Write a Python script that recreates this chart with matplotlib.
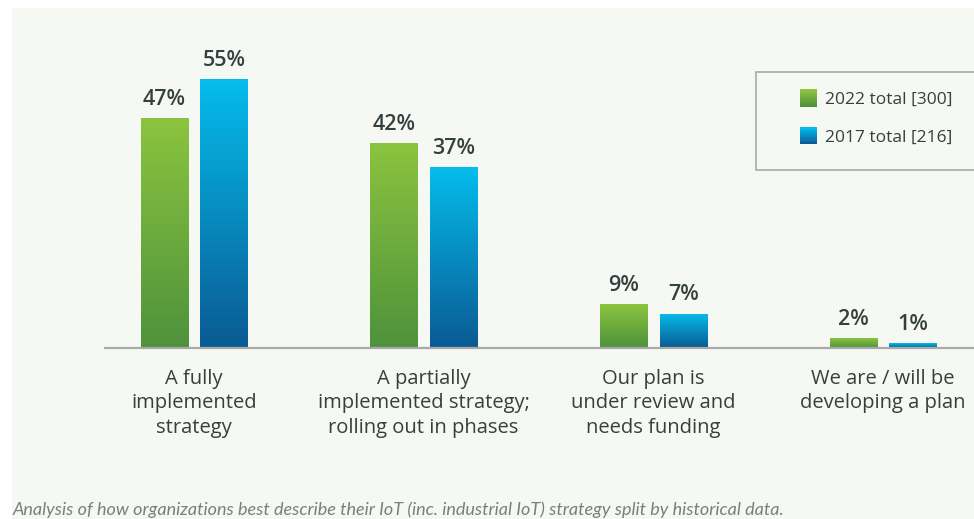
import numpy as np
import matplotlib
matplotlib.use("Agg")
import matplotlib.pyplot as plt
from matplotlib.patches import Rectangle
from matplotlib.legend_handler import HandlerBase
from matplotlib.colors import LinearSegmentedColormap

# --- data ---------------------------------------------------------------
categories = [
    "A fully\nimplemented\nstrategy",
    "A partially\nimplemented strategy;\nrolling out in phases",
    "Our plan is\nunder review and\nneeds funding",
    "We are / will be\ndeveloping a plan",
]
series_names = ["2022 total [300]", "2017 total [216]"]
values_2022 = [47, 42, 9, 2]
values_2017 = [55, 37, 7, 1]
caption = ("Analysis of how organizations best describe their IoT "
           "(inc. industrial IoT) strategy split by historical data.")

# --- styling --------------------------------------------------------------
W, H, DPI = 974, 519, 100
green_top, green_bot = "#8cc43f", "#4e923c"
blue_top, blue_bot = "#05bdec", "#0a5a93"
text_dark = "#34403f"
panel_bg = "#f6f8f3"
font = "Open Sans"

fig = plt.figure(figsize=(W / DPI, H / DPI), dpi=DPI, facecolor="white")
# light panel behind the chart
fig.patches.append(Rectangle((12 / W, 0), 1 - 12 / W, 1 - 8 / H,
                             transform=fig.transFigure, facecolor=panel_bg,
                             edgecolor="none", zorder=-10))

ax_left, ax_right = 105 / W, 1.0
ax_bottom = (H - 348) / H
ax_top = (H - 55) / H
ax = fig.add_axes([ax_left, ax_bottom, ax_right - ax_left, ax_top - ax_bottom])
ax.set_facecolor("none")

x = np.arange(len(categories))
width = 0.205
offset = 0.13


def gradient_bars(xs, vals, top, bot):
    bars = ax.bar(xs, vals, width=width, color="none", edgecolor="none")
    cmap = LinearSegmentedColormap.from_list("g", [bot, top])
    grad = np.linspace(0, 1, 256).reshape(-1, 1)
    for b in bars:
        x0 = b.get_x()
        w, h = b.get_width(), b.get_height()
        im = ax.imshow(grad, cmap=cmap, origin="lower", aspect="auto",
                       extent=(x0, x0 + w, 0, max(h, 1e-6)), zorder=2)
        im.set_clip_path(b)
    return bars


gradient_bars(x - offset, values_2022, green_top, green_bot)
gradient_bars(x + offset, values_2017, blue_top, blue_bot)
ax.set_xlim(-0.3875, 3.396)
ax.set_ylim(0, 60)

for xs, vals in ((x - offset, values_2022), (x + offset, values_2017)):
    for xi, v in zip(xs, vals):
        ax.annotate(f"{v}%", (xi, v), xytext=(0, 6), textcoords="offset points",
                    ha="center", va="bottom", fontsize=15.5, fontweight="semibold",
                    color=text_dark, family=font)

# axes cosmetics
for s in ["top", "right", "left"]:
    ax.spines[s].set_visible(False)
ax.spines["bottom"].set_color("#a7aaa6")
ax.spines["bottom"].set_linewidth(1.6)
ax.set_yticks([])
ax.set_xticks(x)
ax.set_xticklabels(categories, fontsize=14.5, color=text_dark, family=font,
                   linespacing=1.3)
ax.tick_params(axis="x", length=0, pad=15)


class GradientHandler(HandlerBase):
    def __init__(self, top, bot):
        super().__init__()
        self.top, self.bot = top, bot

    def create_artists(self, legend, orig_handle, xdescent, ydescent,
                       width, height, fontsize, trans):
        cmap = LinearSegmentedColormap.from_list("g", [self.bot, self.top])
        n = 14
        arts = []
        side = width
        x0 = -xdescent
        y0 = -ydescent + (height - side) / 2
        for i in range(n):
            r = Rectangle((x0, y0 + side * i / n), side, side / n + 0.3,
                          facecolor=cmap(i / (n - 1)), edgecolor="none",
                          transform=trans)
            arts.append(r)
        return arts


# legend frame running off the right edge
fig.patches.append(Rectangle((756 / W, 1 - 170 / H), 240 / W, 98 / H,
                             transform=fig.transFigure, facecolor=panel_bg,
                             edgecolor="#a9aba8", linewidth=1.2, zorder=1))

h1 = Rectangle((0, 0), 1, 1)
h2 = Rectangle((0, 0), 1, 1)
leg = fig.legend([h1, h2], series_names,
                 handler_map={h1: GradientHandler(green_top, green_bot),
                              h2: GradientHandler(blue_top, blue_bot)},
                 loc="center left", bbox_to_anchor=(800 / W, 1 - 119 / H),
                 frameon=False, borderpad=0,
                 handlelength=0.98, handletextpad=0.45, labelspacing=1.25,
                 borderaxespad=0, prop={"family": font, "size": 12.5})
leg.set_zorder(3)
for t in leg.get_texts():
    t.set_color(text_dark)

fig.text(13 / W, 1 - 510 / H, caption, ha="left", va="center",
         fontsize=13, style="italic", color="#7a7f7c", family="Lato")

fig.savefig("out.png", dpi=DPI, facecolor="white")
